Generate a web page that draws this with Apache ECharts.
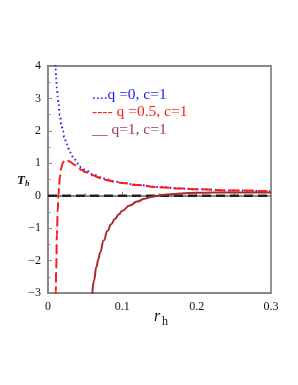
<!DOCTYPE html>
<html>
<head>
<meta charset="utf-8">
<script src="https://cdn.jsdelivr.net/npm/echarts@6/dist/echarts.min.js"></script>
<style>
html,body{margin:0;padding:0;background:#fff;}
#chart{width:298px;height:385px;}
</style>
</head>
<body>
<div id="chart"></div>
<script>
// Data: [r_h, T_h]
var seriesNames = ["q =0, c=1", "q =0.5, c=1", "q=1, c=1"];
var legendTexts = ["....q =0, c=1", "---- q =0.5, c=1", "__ q=1, c=1"];
var xTicks = [0, 0.1, 0.2, 0.3];
var yTicks = [-3, -2, -1, 0, 1, 2, 3, 4];

var q0 = [[0.0095,4.19],[0.01,3.98],[0.011,3.62],[0.012,3.32],[0.013,3.06],[0.014,2.84],[0.016,2.49],[0.018,2.21],[0.02,1.99],[0.022,1.81],[0.025,1.59],[0.03,1.33],[0.035,1.14],[0.04,0.995],[0.045,0.88],[0.05,0.80],[0.06,0.66],[0.07,0.57],[0.08,0.50],[0.09,0.44],[0.1,0.40],[0.12,0.33],[0.15,0.27],[0.18,0.22],[0.2,0.20],[0.25,0.16],[0.3,0.13]];

var q05 = [[0.0104,-3.1],[0.0105,-2.95],[0.011,-2.24],[0.012,-1.20],[0.013,-0.49],[0.014,0.0],[0.015,0.34],[0.016,0.58],[0.018,0.87],[0.02,1.02],[0.022,1.08],[0.024,1.09],[0.026,1.09],[0.028,1.07],[0.03,1.04],[0.035,0.96],[0.04,0.87],[0.045,0.80],[0.05,0.73],[0.06,0.63],[0.07,0.55],[0.08,0.48],[0.09,0.43],[0.1,0.39],[0.12,0.33],[0.15,0.26],[0.18,0.22],[0.2,0.20],[0.25,0.16],[0.3,0.13]];

var q1 = [[0.0595,-3.05],[0.062,-2.6],[0.065,-2.2],[0.068,-1.95],[0.07,-1.75],[0.075,-1.38],[0.08,-1.08],[0.085,-0.88],[0.09,-0.72],[0.095,-0.58],[0.1,-0.46],[0.11,-0.30],[0.12,-0.18],[0.13,-0.09],[0.14,-0.03],[0.15,0.01],[0.16,0.04],[0.18,0.07],[0.2,0.09],[0.22,0.10],[0.25,0.10],[0.3,0.10]];

var zeroLine = [[0,0],[0.3,0]];

var colors = { q0: "#1a1aff", q05: "#ff1a1a", q1: "#a82a2a", q1text: "#9e3a62", zero: "#222222", axis: "#888888" };
var serif = "'Liberation Serif', 'DejaVu Serif', serif";

var chart = echarts.init(document.getElementById('chart'), null, {renderer: 'canvas'});
var option = {
  backgroundColor: '#fff',
  animation: false,
  grid: { left: 48, top: 66, width: 223, height: 227, show: true, borderColor: colors.axis, borderWidth: 1.8, containLabel: false },
  xAxis: {
    type: 'value', min: xTicks[0], max: xTicks[xTicks.length-1], interval: 0.1,
    axisLine: { show: true, lineStyle: { color: colors.axis, width: 1.8 } },
    axisTick: { show: true, inside: true, length: 4, lineStyle: { color: colors.axis } },
    minorTick: { show: true, splitNumber: 2, length: 2.5, lineStyle: { color: colors.axis } },
    splitLine: { show: false },
    axisLabel: { color: '#111', fontFamily: serif, fontSize: 12, margin: 8,
      formatter: function(v){ return String(Math.round(v*10)/10); } }
  },
  yAxis: {
    type: 'value', min: yTicks[0], max: yTicks[yTicks.length-1], interval: 1,
    axisLine: { show: true, lineStyle: { color: colors.axis, width: 1.8 } },
    axisTick: { show: true, inside: true, length: 4, lineStyle: { color: colors.axis } },
    minorTick: { show: true, splitNumber: 2, length: 2.5, lineStyle: { color: colors.axis } },
    splitLine: { show: false },
    axisLabel: { color: '#111', fontFamily: serif, fontSize: 12, margin: 7,
      formatter: function(v){ return v < 0 ? '\u2212' + Math.abs(v) : String(v); } }
  },
  series: [
    { name: 'zero', type: 'line', data: zeroLine, showSymbol: false, silent: true,
      lineStyle: { color: colors.zero, width: 2.5, type: [9, 5] }, z: 2 },
    { name: seriesNames[0], type: 'line', data: q0, showSymbol: false, smooth: true, smoothMonotone: 'x',
      lineStyle: { color: colors.q0, width: 2, type: [1.5, 3] }, z: 3 },
    { name: seriesNames[2], type: 'line', data: q1, showSymbol: false, smooth: true, smoothMonotone: 'x',
      lineStyle: { color: colors.q1, width: 2 }, z: 3 },
    { name: seriesNames[1], type: 'line', data: q05, showSymbol: false, smooth: true, smoothMonotone: 'x',
      lineStyle: { color: colors.q05, width: 2, type: [10, 4] }, z: 4 }
  ],
  graphic: [
    { type: 'text', left: 92, top: 87, z: 10, style: { text: legendTexts[0], fill: colors.q0, font: '15.5px ' + serif } },
    { type: 'text', left: 92, top: 104, z: 10, style: { text: legendTexts[1], fill: colors.q05, font: '15.5px ' + serif } },
    { type: 'text', left: 92, top: 122, z: 10, style: { text: legendTexts[2], fill: colors.q1text, font: '15.5px ' + serif } },
    { type: 'text', left: 17, top: 174, z: 10, style: { text: 'T', fill: '#111', font: 'italic bold 13px ' + serif } },
    { type: 'text', left: 25, top: 180, z: 10, style: { text: 'h', fill: '#111', font: 'italic bold 8px ' + serif } },
    { type: 'text', left: 154, top: 309, z: 10, style: { text: 'r', fill: '#111', font: 'italic 16px ' + serif } },
    { type: 'text', left: 162, top: 316, z: 10, style: { text: 'h', fill: '#111', font: '12px ' + serif } }
  ]
};
chart.setOption(option);
</script>
</body>
</html>
